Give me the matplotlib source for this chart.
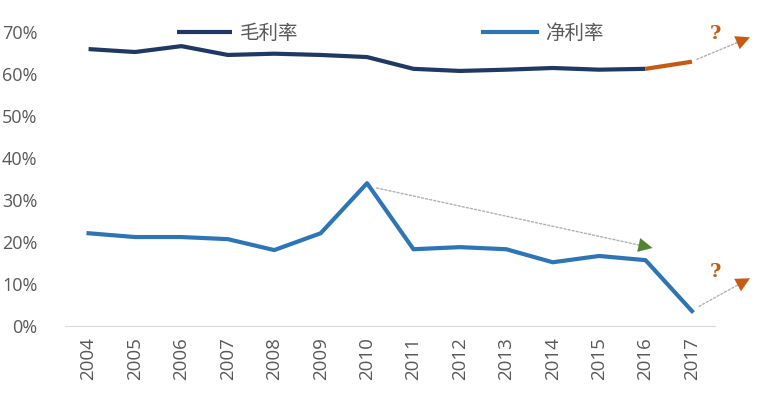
import numpy as np
import matplotlib
matplotlib.use('Agg')
from matplotlib import pyplot as plt

plt.rcParams['font.family'] = ['Open Sans', 'Noto Sans CJK SC', 'DejaVu Sans']

years = ['2004', '2005', '2006', '2007', '2008', '2009', '2010',
         '2011', '2012', '2013', '2014', '2015', '2016', '2017']
gross = [65.9, 65.2, 66.6, 64.5, 64.8, 64.5, 64.0,
         61.2, 60.7, 61.0, 61.4, 61.0, 61.2]
gross_2017 = 62.9
net = [22.1, 21.2, 21.2, 20.7, 18.1, 22.1, 34.0,
       18.3, 18.8, 18.3, 15.2, 16.7, 15.7, 3.6]

# arrow targets (year index, %)
trend_start = (6.15, 33.0)
trend_end = (12.15, 18.6)
gross_arrow_end = (14.25, 68.7)
net_arrow_end = (14.25, 11.4)

navy = '#1f3864'
blue = '#2e75b6'
orange = '#c55a11'
green = '#548235'
gray = '#595959'

fig = plt.figure(figsize=(7.69, 3.93), dpi=100)
ax = fig.add_axes([0.085, 0.170, 0.845, 0.749])

x = np.arange(len(years))
ax.plot(x[:13], gross, color=navy, lw=3, solid_capstyle='butt', label='毛利率')
ax.plot([x[12], x[13]], [gross[-1], gross_2017], color=orange, lw=3, solid_capstyle='butt')
ax.plot(x, net, color=blue, lw=3, label='净利率')

def dotted_arrow(start, end, color):
    ax.annotate('', xy=end, xytext=start,
                arrowprops=dict(arrowstyle='-', color='#b0b0b0', lw=1.0,
                                linestyle=(0, (1.5, 1.5))),
                annotation_clip=False)
    dx = end[0] - start[0]
    dy = end[1] - start[1]
    ax.annotate('', xy=end, xytext=(end[0] - dx * 0.01, end[1] - dy * 0.01),
                arrowprops=dict(arrowstyle='-|>,head_length=1.0,head_width=0.5',
                                color=color, lw=0.1),
                annotation_clip=False)

dotted_arrow(trend_start, trend_end, green)
dotted_arrow((13.05, gross_2017 + 0.3), gross_arrow_end, orange)
dotted_arrow((13.1, net[-1] + 0.8), net_arrow_end, orange)

ax.text(13.5, 69.5, '?', color=orange, fontsize=14, fontweight='bold',
        ha='center', va='center', family='DejaVu Serif')
ax.text(13.5, 12.8, '?', color=orange, fontsize=14, fontweight='bold',
        ha='center', va='center', family='DejaVu Serif')

ax.set_xlim(-0.5, 13.5)
ax.set_ylim(0, 70)
ax.set_xticks(x)
ax.set_xticklabels(years, rotation=90, fontsize=13.5, color=gray)
ax.set_yticks(range(0, 71, 10))
ax.set_yticklabels([f'{v}%' for v in range(0, 71, 10)], fontsize=13, color=gray)
ax.tick_params(axis='x', length=0, pad=8)
ax.tick_params(axis='y', length=0, pad=20)
for s in ['top', 'right', 'left']:
    ax.spines[s].set_visible(False)
ax.spines['bottom'].set_color('#d9d9d9')

ax.legend(loc='center', bbox_to_anchor=(0.5, 0.995), ncol=2, frameon=False,
          fontsize=14, handlelength=2.8, columnspacing=9.5, labelcolor=gray,
          handletextpad=0.4)

fig.savefig('out.png', dpi=100)
